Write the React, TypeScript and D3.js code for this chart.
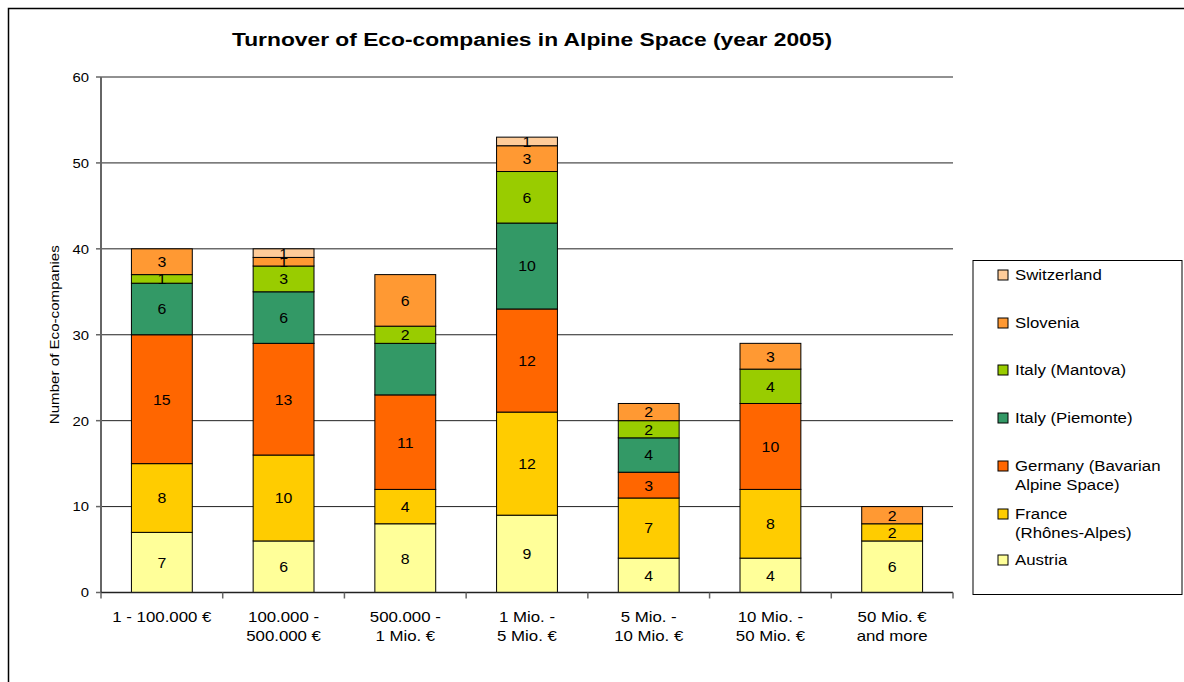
import React from "react";
import * as d3 from "d3";

// Turnover classes (x categories), each label split into lines
const categories = [
  ["1 - 100.000 €"],
  ["100.000 -", "500.000 €"],
  ["500.000 -", "1 Mio. €"],
  ["1 Mio. -", "5 Mio. €"],
  ["5 Mio. -", "10 Mio. €"],
  ["10 Mio. -", "50 Mio. €"],
  ["50 Mio. €", "and more"],
];

// Series, stacked bottom to top
const seriesNames = [
  "Austria",
  "France (Rhônes-Alpes)",
  "Germany (Bavarian Alpine Space)",
  "Italy (Piemonte)",
  "Italy (Mantova)",
  "Slovenia",
  "Switzerland",
];
const austria = [7, 6, 8, 9, 4, 4, 6];
const france = [8, 10, 4, 12, 7, 8, 2];
const germany = [15, 13, 11, 12, 3, 10, 0];
const piemonte = [6, 6, 6, 10, 4, 0, 0];
const mantova = [1, 3, 2, 6, 2, 4, 0];
const slovenia = [3, 1, 6, 3, 2, 3, 2];
const switzerland = [0, 1, 0, 1, 0, 0, 0];
const seriesValues = [austria, france, germany, piemonte, mantova, slovenia, switzerland];
const seriesColors = ["#FFFF99", "#FFCC00", "#FF6600", "#339966", "#99CC00", "#FF9933", "#FFCC99"];
// segments printed without a value label: [series index, category index]
const unlabeled = [[3, 2]];

const yTicks = [0, 10, 20, 30, 40, 50, 60];

// Legend entries, top to bottom, with wrapped text lines
const legendEntries = [
  { s: 6, lines: ["Switzerland"], y: 275 },
  { s: 5, lines: ["Slovenia"], y: 323 },
  { s: 4, lines: ["Italy (Mantova)"], y: 370 },
  { s: 3, lines: ["Italy (Piemonte)"], y: 418 },
  { s: 2, lines: ["Germany (Bavarian", "Alpine Space)"], y: 466 },
  { s: 1, lines: ["France", "(Rhônes-Alpes)"], y: 514 },
  { s: 0, lines: ["Austria"], y: 560 },
];

const FONT = "'Liberation Sans', Arial, Helvetica, sans-serif";

// Text drawn with wide (horizontally stretched) glyphs
function WideText(props: {
  x: number;
  y: number;
  sx: number;
  lines: string[];
  size: number;
  anchor?: "start" | "middle" | "end";
  lineGap?: number;
  dy?: string;
  bold?: boolean;
  rotate?: number;
}) {
  const { x, y, sx, lines, size, anchor = "start", lineGap = 19, dy = "0", bold, rotate = 0 } = props;
  return (
    <text
      transform={`translate(${x},${y}) rotate(${rotate}) scale(${sx},1)`}
      textAnchor={anchor}
      fontSize={size}
      fontWeight={bold ? "bold" : "normal"}
      fill="#000"
    >
      {lines.map((ln, k) => (
        <tspan key={k} x={0} dy={k === 0 ? dy : lineGap}>
          {ln}
        </tspan>
      ))}
    </text>
  );
}

export default function App() {
  const W = 1184;
  const H = 682;
  const left = 101;
  const right = 953;
  const top = 77;
  const bottom = 592.5;

  const x = d3
    .scaleBand<number>()
    .domain(d3.range(categories.length))
    .range([left, right])
    .paddingInner(0.5)
    .paddingOuter(0.25);
  const xOuter = d3.scaleBand<number>().domain(d3.range(categories.length)).range([left, right]);
  const y = d3.scaleLinear().domain([0, 60]).range([bottom, top]);

  const rows = categories.map((_, i) => {
    const r: Record<string, number> = {};
    seriesNames.forEach((n, s) => (r[n] = seriesValues[s][i]));
    return r;
  });
  const stacked = d3.stack<Record<string, number>>().keys(seriesNames)(rows);

  const isUnlabeled = (s: number, c: number) => unlabeled.some(([a, b]) => a === s && b === c);

  return (
    <svg width={W} height={H} style={{ display: "block", position: "absolute", left: 0, top: 0 }} fontFamily={FONT}>
      <rect x={0} y={0} width={W} height={H} fill="#fff" />
      <rect x={8.5} y={8.5} width={W + 10} height={H + 10} fill="none" stroke="#000" strokeWidth={1.5} />

      <WideText x={532} y={46} sx={1.2} size={19} bold anchor="middle" lines={["Turnover of Eco-companies in Alpine Space (year 2005)"]} />

      {/* gridlines */}
      {yTicks.filter((t) => t > 0).map((t) => (
        <line key={t} x1={left} x2={right} y1={y(t)} y2={y(t)} stroke="#222" strokeWidth={1} />
      ))}

      {/* stacked bars */}
      {stacked.map((layer, s) =>
        layer.map((d, c) => {
          const v = d[1] - d[0];
          if (v <= 0) return null;
          return (
            <rect
              key={`${s}-${c}`}
              x={x(c)!}
              y={y(d[1])}
              width={x.bandwidth()}
              height={y(d[0]) - y(d[1])}
              fill={seriesColors[s]}
              stroke="#000"
              strokeWidth={1}
            />
          );
        })
      )}
      {stacked.map((layer, s) =>
        layer.map((d, c) => {
          const v = d[1] - d[0];
          if (v <= 0 || isUnlabeled(s, c)) return null;
          return (
            <WideText
              key={`l${s}-${c}`}
              x={x(c)! + x.bandwidth() / 2}
              y={(y(d[0]) + y(d[1])) / 2}
              sx={1.06}
              size={15}
              anchor="middle"
              dy="0.36em"
              lines={[String(v)]}
            />
          );
        })
      )}

      {/* axes */}
      <line x1={left} x2={left} y1={top} y2={bottom} stroke="#666" strokeWidth={2} />
      <line x1={left} x2={right} y1={bottom} y2={bottom} stroke="#222" strokeWidth={1.5} />
      {yTicks.map((t) => (
        <g key={t}>
          <line x1={left - 5} x2={left} y1={y(t)} y2={y(t)} stroke="#666" strokeWidth={1.5} />
          <WideText x={89} y={y(t)} sx={1.1} size={13.5} anchor="end" dy="0.36em" lines={[String(t)]} />
        </g>
      ))}
      {d3.range(categories.length + 1).map((i) => {
        const px = i < categories.length ? xOuter(i)! : right;
        return <line key={i} x1={px} x2={px} y1={bottom} y2={bottom + 6} stroke="#666" strokeWidth={1.5} />;
      })}
      {categories.map((lines, i) => (
        <WideText
          key={i}
          x={xOuter(i)! + xOuter.bandwidth() / 2}
          y={622}
          sx={1.16}
          size={14.5}
          anchor="middle"
          lineGap={19}
          lines={lines}
        />
      ))}

      <WideText
        x={59}
        y={(top + bottom) / 2}
        sx={1.12}
        size={13.5}
        anchor="middle"
        rotate={-90}
        lines={["Number of Eco-companies"]}
      />

      {/* legend */}
      <rect x={973} y={260.5} width={209} height={334} fill="#fff" stroke="#000" strokeWidth={1} />
      {legendEntries.map((e) => (
        <g key={e.s}>
          <rect x={998} y={e.y - 5} width={10} height={10} fill={seriesColors[e.s]} stroke="#000" strokeWidth={1} />
          <WideText x={1015} y={e.y} sx={1.12} size={15} dy="0.36em" lineGap={18.5} lines={e.lines} />
        </g>
      ))}
    </svg>
  );
}
